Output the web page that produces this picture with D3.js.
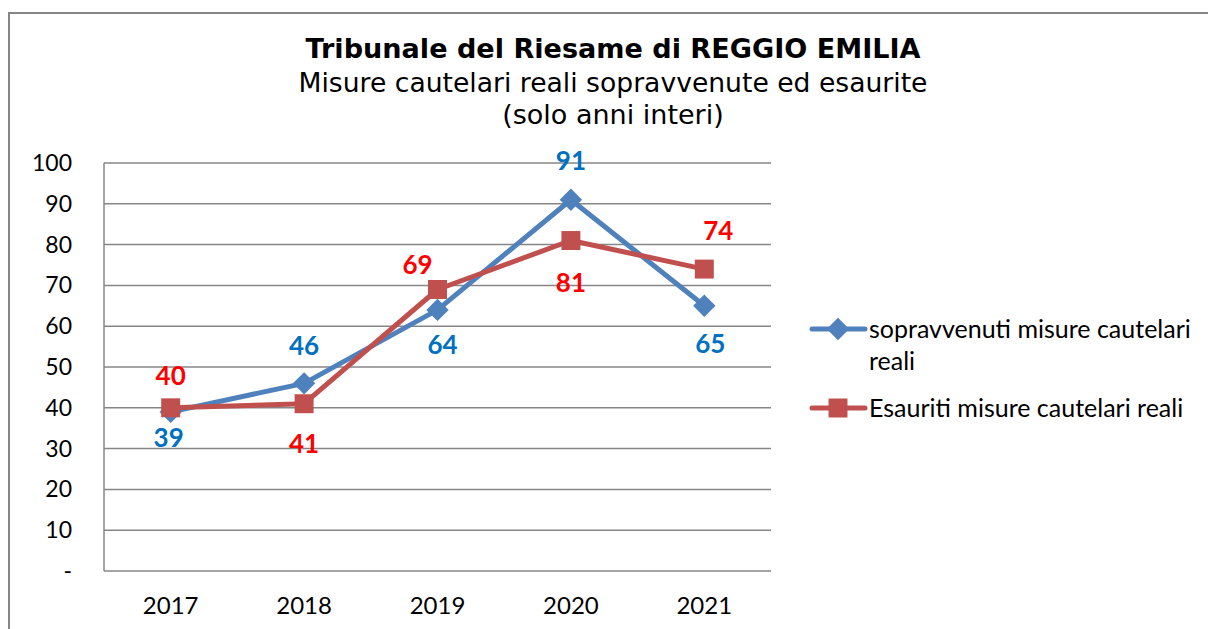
<!DOCTYPE html>
<html>
<head>
<meta charset="utf-8">
<script src="https://cdn.jsdelivr.net/npm/d3@7"></script>
<style>
  body { margin: 0; background: #fff; }
  svg { display: block; }
</style>
</head>
<body>
<div id="chart"></div>
<script>
// chart data
const years = ["2017", "2018", "2019", "2020", "2021"];
const sopravvenuti = [39, 46, 64, 91, 65];
const esauriti = [40, 41, 69, 81, 74];
const yTicks = [0, 10, 20, 30, 40, 50, 60, 70, 80, 90, 100];
const titleLines = ["Tribunale del Riesame di REGGIO EMILIA",
                    "Misure cautelari reali sopravvenute ed esaurite",
                    "(solo anni interi)"];
const seriesNames = ["sopravvenuti misure cautelari reali", "Esauriti misure cautelari reali"];

// label placement (style only), offset from the marker in px
const blueLabelOffset = [[-2, 35], [0, -28], [5, 44], [0, -30], [6, 47]];
const redLabelOffset = [[0, -23], [0, 49], [-20, -15], [0, 51], [14, -29]];

const W = 1208, H = 629;
const margin = {left: 104, right: 437, top: 163, bottom: 58};
const font = "Lato, 'Open Sans', sans-serif";

const svg = d3.select('#chart').append('svg')
    .attr('width', W).attr('height', H);

// outer chart frame
svg.append('rect')
    .attr('x', 9).attr('y', 13)
    .attr('width', W + 10).attr('height', H)
    .attr('fill', 'none')
    .attr('stroke', '#868686')
    .attr('stroke-width', 2);

// titles
let title = svg.append('g').attr('text-anchor', 'middle')
    .style('font-family', "'DejaVu Sans', Verdana, sans-serif");
title.append('text').attr('x', 613).attr('y', 58)
    .style('font-size', '26px').style('font-weight', 'bold')
    .attr('textLength', 615).attr('lengthAdjust', 'spacingAndGlyphs')
    .text(titleLines[0]);
title.append('text').attr('x', 613).attr('y', 92)
    .style('font-size', '26px')
    .attr('textLength', 629).attr('lengthAdjust', 'spacingAndGlyphs')
    .text(titleLines[1]);
title.append('text').attr('x', 613).attr('y', 124)
    .style('font-size', '27px')
    .text(titleLines[2]);

const x = d3.scaleBand().domain(years)
    .range([margin.left, W - margin.right]);
const y = d3.scaleLinear().domain([0, 100])
    .range([H - margin.bottom, margin.top]);

// gridlines
svg.append('g').selectAll('line').data(yTicks).join('line')
    .attr('x1', margin.left).attr('x2', W - margin.right)
    .attr('y1', d => y(d)).attr('y2', d => y(d))
    .attr('stroke', '#868686').attr('stroke-width', 1.5);

// left axis line
svg.append('line')
    .attr('x1', margin.left).attr('x2', margin.left)
    .attr('y1', y(100)).attr('y2', y(0))
    .attr('stroke', '#868686').attr('stroke-width', 1.5);

// y tick labels
svg.append('g').selectAll('text').data(yTicks).join('text')
    .attr('x', 72).attr('y', d => y(d) + 8)
    .attr('text-anchor', 'end')
    .style('font-family', font).style('font-size', '23px').style('fill', '#000')
    .text(d => d === 0 ? '-' : d);

// x labels
svg.append('g').selectAll('text').data(years).join('text')
    .attr('x', d => x(d) + x.bandwidth() / 2).attr('y', 614)
    .attr('text-anchor', 'middle')
    .style('font-family', font).style('font-size', '24px')
    .text(d => d);

const cx = (d, i) => x(years[i]) + x.bandwidth() / 2;
const line = d3.line().x(cx).y(d => y(d));

// blue series first, red drawn on top (as in the original)
let series = [
    {name: seriesNames[0], values: sopravvenuti, color: '#4F81BD', labelColor: '#0070C0', shape: d3.symbolSquare, size: 250, rot: 45, off: blueLabelOffset},
    {name: seriesNames[1], values: esauriti, color: '#C0504D', labelColor: '#FF0000', shape: d3.symbolSquare, size: 360, rot: 0, off: redLabelOffset}
];

series.forEach(function (s) {
    svg.append('path').datum(s.values)
        .attr('d', line)
        .attr('fill', 'none')
        .attr('stroke', s.color)
        .attr('stroke-width', 5)
        .attr('stroke-linejoin', 'round');
    svg.append('g').selectAll('path').data(s.values).join('path')
        .attr('transform', (d, i) => `translate(${cx(d, i)},${y(d)}) rotate(${s.rot})`)
        .attr('d', d3.symbol().type(s.shape).size(s.size))
        .attr('fill', s.color);
});

series.forEach(function (s) {
    svg.append('g').selectAll('text').data(s.values).join('text')
        .attr('x', (d, i) => cx(d, i) + s.off[i][0])
        .attr('y', (d, i) => y(d) + s.off[i][1])
        .attr('text-anchor', 'middle')
        .style('font-family', font).style('font-size', '26px').style('font-weight', 'bold')
        .style('fill', s.labelColor)
        .text(d => d);
});

// legend
let legend = svg.append('g');
let legendItems = [
    {s: series[0], y: 329, lines: ['sopravvenuti misure cautelari', 'reali']},
    {s: series[1], y: 408, lines: ['Esauriti misure cautelari reali']}
];
legendItems.forEach(function (item) {
    legend.append('line')
        .attr('x1', 812).attr('x2', 865)
        .attr('y1', item.y).attr('y2', item.y)
        .attr('stroke', item.s.color).attr('stroke-width', 5)
        .attr('stroke-linecap', 'round');
    legend.append('path')
        .attr('transform', `translate(838,${item.y}) rotate(${item.s.rot})`)
        .attr('d', d3.symbol().type(item.s.shape).size(item.s.size))
        .attr('fill', item.s.color);
    item.lines.forEach(function (t, k) {
        legend.append('text')
            .attr('x', 869).attr('y', item.y + 9 + k * 32)
            .style('font-family', font).style('font-size', '25px')
            .text(t);
    });
});
</script>
</body>
</html>
